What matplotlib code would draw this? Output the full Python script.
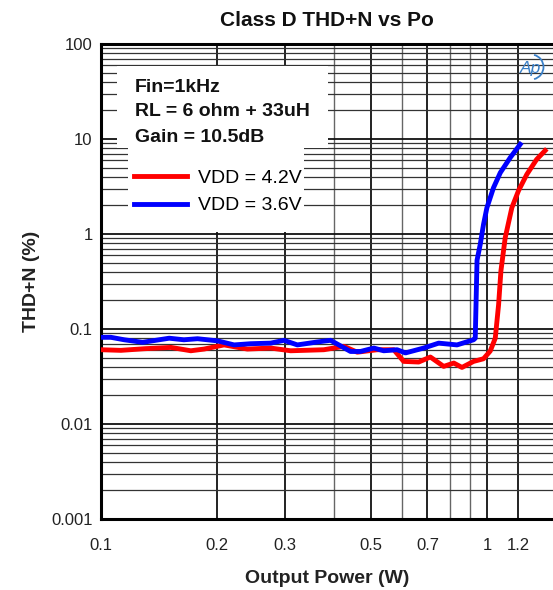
import matplotlib
matplotlib.use("Agg")
import matplotlib.pyplot as plt
from matplotlib.ticker import FixedLocator, FixedFormatter, LogLocator, NullFormatter
from matplotlib.patches import Arc, Rectangle

plt.rcParams['font.family'] = ['Liberation Sans', 'DejaVu Sans']

# Data (Output power in W, THD+N in %)
red_x = [0.100, 0.1126, 0.1294, 0.1517, 0.1708, 0.1849, 0.2083, 0.2393, 0.2750, 0.3097,
         0.3776, 0.4254, 0.4607, 0.5188, 0.5727, 0.6077, 0.6645, 0.7124, 0.7712, 0.8192,
         0.8602, 0.9218, 0.978, 1.018, 1.049, 1.070, 1.085, 1.113, 1.158, 1.205, 1.266,
         1.343, 1.412]
red_y = [0.0605, 0.0596, 0.062, 0.064, 0.059, 0.0615, 0.068, 0.0615, 0.063, 0.059,
         0.0605, 0.0657, 0.057, 0.0605, 0.0605, 0.0456, 0.0449, 0.0507, 0.0404, 0.0438,
         0.0394, 0.0456, 0.0486, 0.0586, 0.080, 0.180, 0.409, 0.912, 1.89, 2.86, 4.24,
         6.11, 7.55]

blue_x = [0.100, 0.106, 0.1149, 0.1282, 0.1502, 0.1639, 0.1778, 0.2003, 0.2211, 0.2441,
          0.2750, 0.2976, 0.3224, 0.3630, 0.3929, 0.4128, 0.4426, 0.4697, 0.5085, 0.5395,
          0.5843, 0.6141, 0.6846, 0.7486, 0.8351, 0.9218, 0.931, 0.941, 0.959, 0.978,
          0.998, 1.038, 1.081, 1.147, 1.217]
blue_y = [0.0818, 0.0818, 0.077, 0.0724, 0.080, 0.077, 0.079, 0.075, 0.068, 0.070,
          0.071, 0.076, 0.068, 0.073, 0.076, 0.068, 0.058, 0.058, 0.063, 0.059,
          0.0605, 0.056, 0.063, 0.071, 0.068, 0.077, 0.080, 0.53, 0.775, 1.26,
          1.89, 3.07, 4.42, 6.37, 8.79]

series_labels = ["VDD = 4.2V", "VDD = 3.6V"]
x_ticks = [0.1, 0.2, 0.3, 0.5, 0.7, 1, 1.2]
x_ticklabels = ["0.1", "0.2", "0.3", "0.5", "0.7", "1", "1.2"]
x_minor = [0.4, 0.6, 0.8, 0.9]
y_ticks = [0.001, 0.01, 0.1, 1, 10, 100]
y_ticklabels = ["0.001", "0.01", "0.1", "1", "10", "100"]
info_lines = ["Fin=1kHz", "RL = 6 ohm + 33uH", "Gain = 10.5dB"]

W, H = 553, 590
fig = plt.figure(figsize=(W / 100, H / 100), dpi=100)
ax = fig.add_axes([101 / W, 1 - 519 / H, (553 - 101) / W, (519 - 44) / H])

ax.set_xscale('log')
ax.set_yscale('log')
ax.set_xlim(0.1, 1.48)
ax.set_ylim(0.001, 100)

ax.xaxis.set_major_locator(FixedLocator(x_ticks))
ax.xaxis.set_major_formatter(FixedFormatter(x_ticklabels))
ax.xaxis.set_minor_locator(FixedLocator(x_minor))
ax.xaxis.set_minor_formatter(NullFormatter())
ax.yaxis.set_major_locator(FixedLocator(y_ticks))
ax.yaxis.set_major_formatter(FixedFormatter(y_ticklabels))
ax.yaxis.set_minor_locator(LogLocator(base=10, subs=range(2, 10), numticks=20))
ax.yaxis.set_minor_formatter(NullFormatter())

ax.grid(True, which='major', axis='both', color='#111111', linewidth=1.3)
ax.grid(True, which='minor', axis='y', color='#333333', linewidth=0.9)
ax.grid(True, which='minor', axis='x', color='#666666', linewidth=1.0)
ax.set_axisbelow(True)

ax.tick_params(which='both', length=0, labelsize=12, colors='#222222')
ax.tick_params(axis='x', pad=14)
ax.tick_params(axis='y', pad=6)

for s in ['left', 'bottom', 'top']:
    ax.spines[s].set_linewidth(2.2)
    ax.spines[s].set_color('black')
ax.spines['right'].set_visible(False)

l1, = ax.plot(red_x, red_y, color='#ff0000', linewidth=3.5, label=series_labels[0], zorder=5)
l2, = ax.plot(blue_x, blue_y, color='#0000ff', linewidth=3.5, label=series_labels[1], zorder=6)

ax.set_title("Class D THD+N vs Po", fontsize=15, fontweight='bold', pad=13, color='#111111')
ax.set_xlabel("Output Power (W)", fontsize=14, fontweight='bold', labelpad=12, color='#222222')
ax.set_ylabel("THD+N (%)", fontsize=14, fontweight='bold', labelpad=8, color='#222222')

# Info box (white background)
ax.add_patch(Rectangle((117 / W, 1 - 148 / H), (328 - 117) / W, (148 - 66) / H,
                       transform=fig.transFigure, facecolor='white', edgecolor='none',
                       zorder=9, clip_on=False))
for i, t in enumerate(info_lines):
    ax.text(135 / W, 1 - (87 + 25 * i) / H, t, transform=fig.transFigure, fontsize=14,
            fontweight='bold', va='center', ha='left', color='#111111', zorder=10)

# Legend background
ax.add_patch(Rectangle((128 / W, 1 - 232 / H), (304 - 128) / W, (232 - 148) / H,
                       transform=fig.transFigure, facecolor='white', edgecolor='none',
                       zorder=9, clip_on=False))
leg = ax.legend(handles=[l1, l2], loc='center left', bbox_to_anchor=(134 / W, 1 - 192 / H),
                bbox_transform=fig.transFigure, fontsize=14, frameon=False,
                handlelength=2.7, handletextpad=0.6, labelspacing=0.5, borderpad=0,
                borderaxespad=0)
leg.set_zorder(11)
for line in leg.get_lines():
    line.set_linewidth(3.5)

# Ap logo
ax.text(530 / W, 1 - 68 / H, "Ap", transform=fig.transFigure, fontsize=12.5, style='italic',
        color='#3a80c8', ha='center', va='center', zorder=12)
arc = Arc((531 / W, 1 - 67 / H), 25 / W, 25 / H, theta1=-75, theta2=75,
          transform=fig.transFigure, color='#3a80c8', linewidth=1.3, zorder=12, clip_on=False)
ax.add_patch(arc)

fig.savefig("out.png", dpi=100)
